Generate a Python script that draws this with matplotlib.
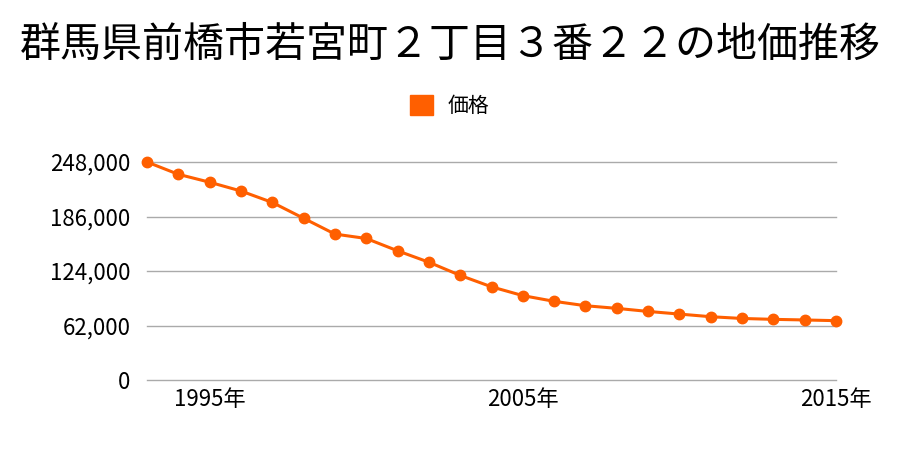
import matplotlib
matplotlib.use('Agg')
import matplotlib.pyplot as plt
from matplotlib import ticker

plt.rcParams['font.family'] = ['Noto Sans CJK JP', 'DejaVu Sans']

years = list(range(1993, 2016))
prices = [248000, 234000, 225000, 215000, 202000, 184000, 166000, 161000,
          147000, 134000, 119000, 106000, 96000, 89500, 84500, 81500,
          78000, 75000, 72000, 70000, 69000, 68300, 67500]
yticks = [0, 62000, 124000, 186000, 248000]
xticks = [1995, 2005, 2015]

fig = plt.figure(figsize=(9, 4.5), dpi=100)
ax = fig.add_axes([147/900, 1-380/450, (836-147)/900, (380-162)/450])

ax.plot(years, prices, color='#ff5f00', lw=2.2, marker='o', ms=7.5,
        label='価格', zorder=3, clip_on=False)

ax.set_xlim(1993, 2015)
ax.set_ylim(0, 248000)
ax.set_yticks(yticks)
ax.yaxis.set_major_formatter(ticker.FuncFormatter(lambda v, p: format(int(v), ',')))
ax.set_xticks(xticks)
ax.set_xticklabels([f'{y}年' for y in xticks])
ax.tick_params(axis='both', length=0, labelsize=16, colors='black')
ax.tick_params(axis='y', pad=12)
ax.tick_params(axis='x', pad=6)
ax.grid(axis='y', color='#aaaaaa', lw=1)
for gl in ax.get_ygridlines():
    gl.set_clip_on(False)
ax.set_axisbelow(True)
for s in ax.spines.values():
    s.set_visible(False)

fig.suptitle('群馬県前橋市若宮町２丁目３番２２の地価推移', y=1-45/450, va='center',
             fontsize=29.5)

handle = plt.Rectangle((0, 0), 1, 1, color='#ff5f00')
fig.legend([handle], ['価格'], loc='center', bbox_to_anchor=(0.5, 1-106/450),
           frameon=False, fontsize=15, handlelength=1.1, handleheight=1.1,
           handletextpad=0.7)

fig.savefig('out.png', dpi=100)
